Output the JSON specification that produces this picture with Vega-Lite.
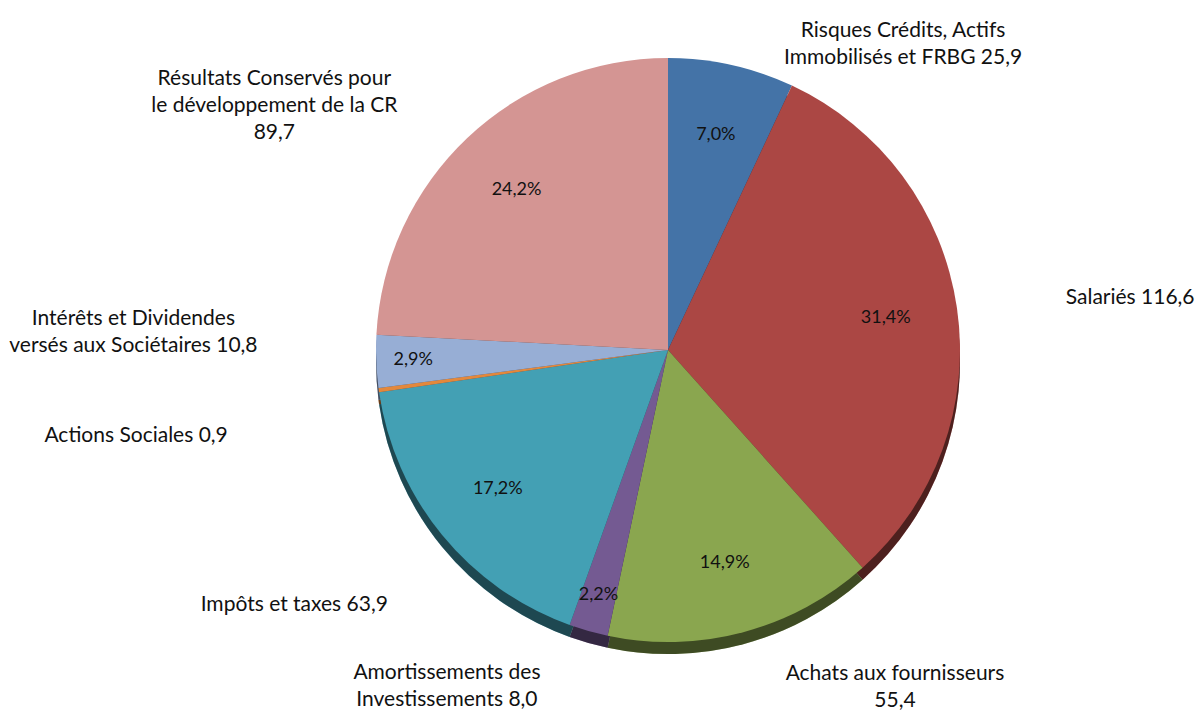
{
  "$schema": "https://vega.github.io/schema/vega-lite/v6.json",
  "width": 1064,
  "height": 700,
  "autosize": {"type": "none"},
  "padding": {"left": 136, "top": 0, "right": 0, "bottom": 11},
  "background": "white",
  "config": {"view": {"stroke": null}, "text": {"font": "Lato", "color": "#111111"}},
  "data": {
    "values": [
      {"idx": 1, "cat": "Risques", "value": 25.9, "pct": "7,0%", "label": "Risques Crédits, Actifs\nImmobilisés et FRBG 25,9"},
      {"idx": 2, "cat": "Salariés", "value": 116.6, "pct": "31,4%", "label": "Salariés 116,6"},
      {"idx": 3, "cat": "Achats", "value": 55.4, "pct": "14,9%", "label": "Achats aux fournisseurs\n55,4"},
      {"idx": 4, "cat": "Amortissements", "value": 8.0, "pct": "2,2%", "label": "Amortissements des\nInvestissements 8,0"},
      {"idx": 5, "cat": "Impôts", "value": 63.9, "pct": "17,2%", "label": "Impôts et taxes 63,9"},
      {"idx": 6, "cat": "Actions", "value": 0.9, "pct": "0,2%", "label": "Actions Sociales 0,9"},
      {"idx": 7, "cat": "Intérêts", "value": 10.8, "pct": "2,9%", "label": "Intérêts et Dividendes\nversés aux Sociétaires 10,8"},
      {"idx": 8, "cat": "Résultats", "value": 89.7, "pct": "24,2%", "label": "Résultats Conservés pour\nle développement de la CR\n89,7"}
    ]
  },
  "encoding": {
    "theta": {"field": "value", "type": "quantitative", "stack": true},
    "order": {"field": "idx", "type": "quantitative"},
    "detail": {"field": "cat", "type": "nominal"}
  },
  "layer": [
    {
      "mark": {"type": "arc", "outerRadius": 292, "yOffset": 12},
      "encoding": {
        "color": {"field": "cat", "type": "nominal", "legend": null,
          "scale": {"domain": ["Risques", "Salariés", "Achats", "Amortissements", "Impôts", "Actions", "Intérêts", "Résultats"],
                    "range": ["#4473A7", "#AB4744", "#8AA64F", "#745A92", "#43A0B4", "#E3883C", "#97AED5", "#D49593"]}}
      }
    },
    {
      "mark": {"type": "arc", "outerRadius": 292, "yOffset": 12, "fill": "#000000", "fillOpacity": 0.55}
    },
    {
      "mark": {"type": "arc", "outerRadius": 292},
      "encoding": {
        "color": {"field": "cat", "type": "nominal", "legend": null}
      }
    },
    {
      "mark": {"type": "text", "radius": 220, "fontSize": 18, "align": "center", "baseline": "middle"},
      "encoding": {"text": {"condition": {"test": "indexof(['Risques','Salariés','Achats','Impôts','Résultats'], datum.cat) >= 0", "field": "pct"}, "value": ""}}
    },
    {
      "mark": {"type": "text", "radius": 255, "fontSize": 18, "align": "center", "baseline": "middle"},
      "encoding": {"text": {"condition": {"test": "datum.cat === 'Amortissements' || datum.cat === 'Intérêts'", "field": "pct"}, "value": ""}}
    },
    {
      "mark": {"type": "text", "radius": 313, "dx": 167, "dy": -13, "fontSize": 21, "lineHeight": 27, "lineBreak": "\n", "align": "center", "baseline": "middle"},
      "encoding": {"text": {"condition": {"test": "datum.cat === 'Risques'", "field": "label"}, "value": ""}}
    },
    {
      "mark": {"type": "text", "radius": 402, "dy": 6, "fontSize": 21, "lineHeight": 27, "lineBreak": "\n", "align": "left", "baseline": "middle"},
      "encoding": {"text": {"condition": {"test": "datum.cat === 'Salariés'", "field": "label"}, "value": ""}}
    },
    {
      "mark": {"type": "text", "radius": 349, "dx": 137, "dy": -13, "fontSize": 21, "lineHeight": 27, "lineBreak": "\n", "align": "center", "baseline": "middle"},
      "encoding": {"text": {"condition": {"test": "datum.cat === 'Achats'", "field": "label"}, "value": ""}}
    },
    {
      "mark": {"type": "text", "radius": 349, "dx": -126, "dy": -13, "fontSize": 21, "lineHeight": 27, "lineBreak": "\n", "align": "center", "baseline": "middle"},
      "encoding": {"text": {"condition": {"test": "datum.cat === 'Amortissements'", "field": "label"}, "value": ""}}
    },
    {
      "mark": {"type": "text", "radius": 403, "dx": -62, "fontSize": 21, "lineHeight": 27, "lineBreak": "\n", "align": "center", "baseline": "middle"},
      "encoding": {"text": {"condition": {"test": "datum.cat === 'Impôts'", "field": "label"}, "value": ""}}
    },
    {
      "mark": {"type": "text", "radius": 537, "dy": 12, "fontSize": 21, "lineHeight": 27, "lineBreak": "\n", "align": "center", "baseline": "middle"},
      "encoding": {"text": {"condition": {"test": "datum.cat === 'Actions'", "field": "label"}, "value": ""}}
    },
    {
      "mark": {"type": "text", "radius": 535, "dy": -52, "fontSize": 21, "lineHeight": 27, "lineBreak": "\n", "align": "center", "baseline": "middle"},
      "encoding": {"text": {"condition": {"test": "datum.cat === 'Intérêts'", "field": "label"}, "value": ""}}
    },
    {
      "mark": {"type": "text", "radius": 338, "dx": -161, "dy": -26, "fontSize": 21, "lineHeight": 27, "lineBreak": "\n", "align": "center", "baseline": "middle"},
      "encoding": {"text": {"condition": {"test": "datum.cat === 'Résultats'", "field": "label"}, "value": ""}}
    }
  ]
}
